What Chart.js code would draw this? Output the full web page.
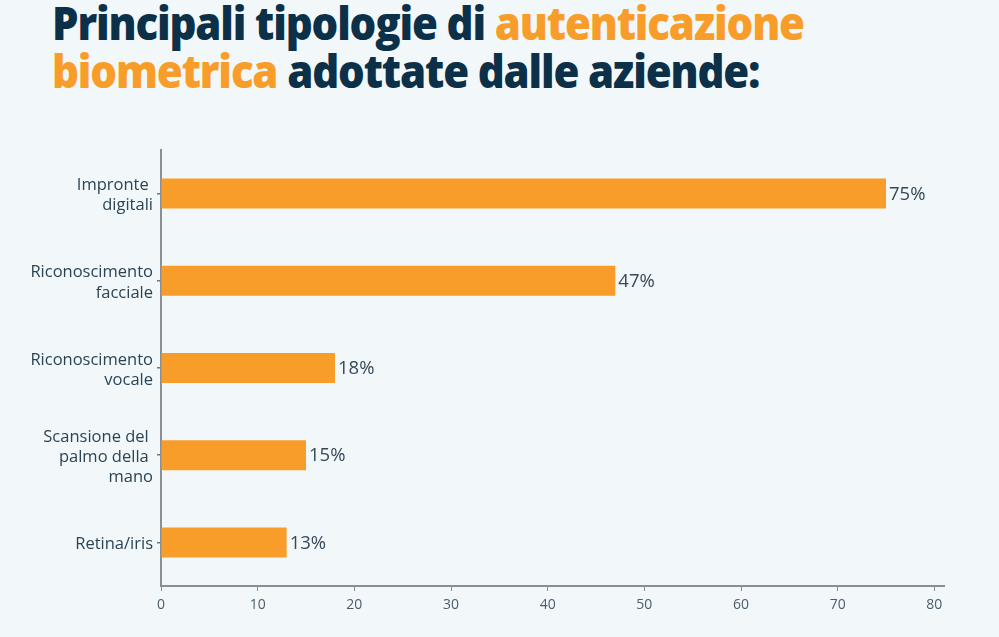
<!DOCTYPE html>
<html>
<head>
<meta charset="utf-8">
<script src="https://cdn.jsdelivr.net/npm/chart.js@4.4.0/dist/chart.umd.min.js"></script>
<style>
  html, body { margin: 0; padding: 0; background: #f2f8f9; }
  #wrap { position: relative; width: 999px; height: 637px; overflow: hidden; }
  #chart { position: absolute; left: 0; top: 0; }
  h1 {
    position: absolute; left: 52px; top: -1px; margin: 0;
    font-family: "Open Sans", sans-serif; font-weight: 800;
    font-size: 42px; line-height: 44px; color: #0d3049;
    letter-spacing: -1.15px; white-space: nowrap;
    transform: scaleY(1.08); transform-origin: left top;
  }
  h1 span { color: #f99d2a; }
</style>
</head>
<body>
<div id="wrap">
  <h1>Principali tipologie di <span>autenticazione</span><br><span>biometrica</span> adottate dalle aziende:</h1>
  <canvas id="chart" width="999" height="637"></canvas>
</div>
<script>
'use strict';

var categories = [
    ['Impronte ', 'digitali'],
    ['Riconoscimento', 'facciale'],
    ['Riconoscimento', 'vocale'],
    ['Scansione del ', 'palmo della ', 'mano'],
    ['Retina/iris']
];
var values = [75, 47, 18, 15, 13];
var xTicks = [0, 10, 20, 30, 40, 50, 60, 70, 80];

var orange = '#f99d2a';
var axisGrey = '#8a8f93';

// draws "75%" etc. just past the end of each bar
var valueLabels = {
    id: 'valueLabels',
    afterDatasetsDraw: function(chart) {
        var ctx = chart.ctx;
        var meta = chart.getDatasetMeta(0);
        ctx.save();
        ctx.font = '18.5px "Open Sans"';
        ctx.fillStyle = '#36495a';
        ctx.textBaseline = 'middle';
        ctx.textAlign = 'left';
        meta.data.forEach(function(bar, i) {
            ctx.fillText(values[i] + '%', bar.x + 3, bar.y + 1);
        });
        ctx.restore();
    }
};

new Chart(document.getElementById('chart'), {
    type: 'bar',
    data: {
        labels: categories,
        datasets: [{
            data: values,
            backgroundColor: orange,
            borderWidth: 0,
            barPercentage: 0.344,
            categoryPercentage: 1
        }]
    },
    options: {
        indexAxis: 'y',
        responsive: false,
        animation: false,
        layout: { padding: { top: 150, right: 55, left: 0, bottom: 0 } },
        plugins: { legend: { display: false }, tooltip: { enabled: false } },
        scales: {
            x: {
                min: 0,
                max: 81,
                afterBuildTicks: function(scale) {
                    scale.ticks = xTicks.map(function(v) { return { value: v }; });
                },
                afterFit: function(scale) { scale.height = 51; },
                border: { color: axisGrey, width: 2 },
                grid: { drawOnChartArea: false, color: axisGrey, tickLength: 5, lineWidth: 1 },
                ticks: {
                    color: '#4a5d6b',
                    font: { family: 'Open Sans', size: 14 },
                    padding: 6,
                    maxRotation: 0
                }
            },
            y: {
                afterFit: function(scale) { scale.width = 161; },
                border: { color: axisGrey, width: 2 },
                grid: { drawOnChartArea: false, offset: false, color: '#6f767b', tickLength: 4, lineWidth: 1.5 },
                ticks: {
                    color: '#2a4456',
                    font: { family: 'Open Sans', size: 16.5, lineHeight: 1.22 },
                    padding: 4,
                    labelOffset: 2
                }
            }
        }
    },
    plugins: [valueLabels]
});
</script>
</body>
</html>
